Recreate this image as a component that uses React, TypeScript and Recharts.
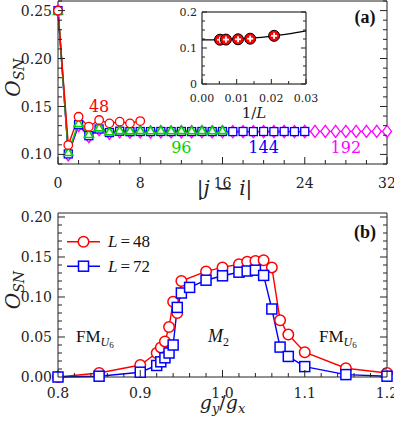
import React from 'react';
import { LineChart, Line, XAxis, YAxis, ReferenceDot, Legend } from 'recharts';

// panel (a): O_SN against |j - i|, one series per system size
const dist48 = [0, 1, 2, 3, 4, 5, 6, 7, 8];
const osn48 = [0.25, 0.1098, 0.1393, 0.1289, 0.1359, 0.1324, 0.1341, 0.1324, 0.1348];

const dist96 = [0, 1, 2, 3, 4, 5, 6, 7, 8, 9, 10, 11, 12, 13, 14, 15, 16];
const osn96 = [0.25, 0.1022, 0.1324, 0.121, 0.1279, 0.1237, 0.1251, 0.1248, 0.125, 0.1249, 0.125, 0.1249, 0.125, 0.1249, 0.125, 0.1249, 0.125];

const dist144 = [0, 1, 2, 3, 4, 5, 6, 7, 8, 9, 10, 11, 12, 13, 14, 15, 16, 17, 18, 19, 20, 21, 22, 23, 24];
const osn144 = [0.25, 0.1005, 0.131, 0.1195, 0.1265, 0.1228, 0.1242, 0.1237, 0.1239, 0.1238, 0.1239, 0.1238, 0.1239, 0.1238, 0.1239, 0.1238, 0.1239, 0.1238, 0.1239, 0.1238, 0.1239, 0.1238, 0.1239, 0.1238, 0.1239];

const dist192 = [0, 1, 2, 3, 4, 5, 6, 7, 8, 9, 10, 11, 12, 13, 14, 15, 16, 17, 18, 19, 20, 21, 22, 23, 24, 25, 26, 27, 28, 29, 30, 31, 32];
const osn192 = [0.25, 0.0995, 0.13, 0.1185, 0.1258, 0.122, 0.1236, 0.1232, 0.1235, 0.1234, 0.1236, 0.1235, 0.1236, 0.1236, 0.1237, 0.1236, 0.1237, 0.1237, 0.1238, 0.1237, 0.1238, 0.1238, 0.1239, 0.1238, 0.1239, 0.124, 0.124, 0.124, 0.124, 0.124, 0.124, 0.124, 0.124];

// inset: finite size extrapolation against 1/L
const invL = [0.0052, 0.0069, 0.0104, 0.0139, 0.0208];
const osnInf = [0.123, 0.1234, 0.1242, 0.1258, 0.1338];
const fitX = [0, 0.005, 0.01, 0.015, 0.02, 0.025, 0.03];
const fitY = [0.1225, 0.1232, 0.125, 0.128, 0.1332, 0.1395, 0.1478];

// panel (b): O_SN against g_y/g_x
const gy48 = [0.8, 0.85, 0.9, 0.92, 0.925, 0.93, 0.935, 0.94, 0.945, 0.95, 0.98, 1.0, 1.02, 1.03, 1.04, 1.05, 1.06, 1.07, 1.08, 1.1, 1.15, 1.2];
const osnL48 = [0.0, 0.005, 0.015, 0.03, 0.037, 0.0445, 0.0625, 0.094, 0.08, 0.12, 0.132, 0.137, 0.141, 0.144, 0.145, 0.146, 0.137, 0.071, 0.053, 0.031, 0.011, 0.005];
const gy72 = [0.8, 0.85, 0.9, 0.92, 0.925, 0.93, 0.935, 0.94, 0.945, 0.95, 0.96, 0.98, 1.0, 1.02, 1.03, 1.04, 1.05, 1.06, 1.07, 1.08, 1.1, 1.15, 1.2];
const osnL72 = [0.0, 0.001, 0.006, 0.0144, 0.019, 0.024, 0.03, 0.04, 0.087, 0.105, 0.112, 0.121, 0.1265, 0.131, 0.1325, 0.1335, 0.127, 0.085, 0.0374, 0.0257, 0.013, 0.003, 0.001];

// ticks
const topXMajor = [0, 8, 16, 24, 32];
const topXTicks = [0, 2, 4, 6, 8, 10, 12, 14, 16, 18, 20, 22, 24, 26, 28, 30, 32];
const topYMajor = [0.1, 0.15, 0.2, 0.25];
const topYTicks = [0.09, 0.1, 0.11, 0.12, 0.13, 0.14, 0.15, 0.16, 0.17, 0.18, 0.19, 0.2, 0.21, 0.22, 0.23, 0.24, 0.25, 0.26];
const botXMajor = [0.8, 0.9, 1.0, 1.1, 1.2];
const botXTicks = [0.8, 0.82, 0.84, 0.86, 0.88, 0.9, 0.92, 0.94, 0.96, 0.98, 1.0, 1.02, 1.04, 1.06, 1.08, 1.1, 1.12, 1.14, 1.16, 1.18, 1.2];
const botYMajor = [0, 0.05, 0.1, 0.15, 0.2];
const botYTicks = [0, 0.01, 0.02, 0.03, 0.04, 0.05, 0.06, 0.07, 0.08, 0.09, 0.1, 0.11, 0.12, 0.13, 0.14, 0.15, 0.16, 0.17, 0.18, 0.19, 0.2];
const insetXMajor = [0, 0.01, 0.02, 0.03];
const insetXTicks = [0, 0.005, 0.01, 0.015, 0.02, 0.025, 0.03];
const insetYMajor = [0, 0.1, 0.2];
const insetYTicks = [0, 0.025, 0.05, 0.075, 0.1, 0.125, 0.15, 0.175, 0.2];

const pts = (xs: number[], ys: number[]) => xs.map((x, i) => ({ x, y: ys[i] }));

const SERIF = '"DejaVu Serif", serif';
const TIMES = '"Liberation Serif", serif';
const AXIS = '#222';
const RED = '#ff0000';
const GREEN = '#00d400';
const BLUE = '#0000ff';
const MAGENTA = '#ff00ff';

type Side = 'left' | 'right' | 'top' | 'bottom';

function makeTick(side: Side, majors: number[], opts: { fmt?: (v: number) => string; gap?: number; size?: number; major?: number; minor?: number } = {}) {
  const { fmt, gap = 6, size = 14, major = 7, minor = 4 } = opts;
  return (p: any) => {
    const { x, y, payload, index } = p;
    const v = payload.value;
    const isMajor = majors.some((m) => Math.abs(m - v) < 1e-9);
    const len = isMajor ? major : minor;
    let x2 = x;
    let y2 = y;
    if (side === 'left') x2 = x + len;
    if (side === 'right') x2 = x - len;
    if (side === 'bottom') y2 = y - len;
    if (side === 'top') y2 = y + len;
    let label = null;
    if (fmt && isMajor) {
      label =
        side === 'left' ? (
          <text x={x - gap} y={y} dy="0.36em" textAnchor="end" fontSize={size} fontFamily={SERIF} fill="#222">
            {fmt(v)}
          </text>
        ) : (
          <text x={x} y={y + gap} textAnchor="middle" fontSize={size} fontFamily={SERIF} fill="#222">
            {fmt(v)}
          </text>
        );
    }
    return (
      <g key={index}>
        <line x1={x} y1={y} x2={x2} y2={y2} stroke={AXIS} strokeWidth={1} />
        {label}
      </g>
    );
  };
}

type Shape = 'circle' | 'square' | 'triangle' | 'diamond' | 'plus';

function marker(shape: Shape, color: string, size: number, sw = 1.3) {
  return (p: any) => {
    const { cx, cy, index } = p;
    const h = size / 2;
    if (cx == null || cy == null) return <g key={index} />;
    if (shape === 'circle')
      return <circle key={index} cx={cx} cy={cy} r={h} fill="#fff" stroke={color} strokeWidth={sw} />;
    if (shape === 'square')
      return <rect key={index} x={cx - h} y={cy - h} width={size} height={size} fill="#fff" stroke={color} strokeWidth={sw} />;
    if (shape === 'triangle')
      return (
        <polygon
          key={index}
          points={`${cx},${cy - h * 1.05} ${cx - h * 1.1},${cy + h * 0.8} ${cx + h * 1.1},${cy + h * 0.8}`}
          fill="#fff"
          stroke={color}
          strokeWidth={sw + 0.4}
        />
      );
    if (shape === 'diamond')
      return (
        <polygon
          key={index}
          points={`${cx},${cy - h * 1.35} ${cx + h},${cy} ${cx},${cy + h * 1.35} ${cx - h},${cy}`}
          fill="#fff"
          stroke={color}
          strokeWidth={sw}
        />
      );
    return (
      <g key={index}>
        <circle cx={cx} cy={cy} r={h} fill={color} stroke="#000" strokeWidth={1} />
        <line x1={cx - h * 0.55} y1={cy} x2={cx + h * 0.55} y2={cy} stroke="#fff" strokeWidth={1.8} />
        <line x1={cx} y1={cy - h * 0.55} x2={cx} y2={cy + h * 0.55} stroke="#fff" strokeWidth={1.8} />
      </g>
    );
  };
}

const note = (body: React.ReactNode, color: string, size: number, anchor: 'start' | 'middle' = 'middle', weight = 'normal', family = SERIF) =>
  (p: any) => (
    <text x={p.cx} y={p.cy} dy={anchor === 'middle' ? '0.36em' : 0} textAnchor={anchor} fill={color} fontSize={size} fontFamily={family} fontWeight={weight}>
      {body}
    </text>
  );

const yTitle = (p: any) => {
  const vb = p.viewBox;
  const x = 20;
  const y = vb.y + vb.height / 2 - 5;
  return (
    <text x={x} y={y} transform={`rotate(-90, ${x}, ${y})`} textAnchor="middle" fontFamily={SERIF} fill="#222">
      <tspan fontStyle="italic" fontSize={20}>O</tspan>
      <tspan fontStyle="italic" fontSize={14} dy={4}>SN</tspan>
    </text>
  );
};

// main axes keep their domain without allowDataOverflow so markers on the frame are not clipped
const mainAxis = { type: 'number' as const, interval: 0, tickSize: 0, tickMargin: 0, tickLine: false, axisLine: { stroke: AXIS } };
const frameAxis = { ...mainAxis, allowDataOverflow: true };

function TopPanel() {
  return (
    <LineChart width={394} height={200} margin={{ top: 1, right: 7, bottom: 0, left: 0 }}>
      <XAxis
        {...mainAxis}
        dataKey="x"
        domain={[0, 32]}
        ticks={topXTicks}
        height={36}
        tick={makeTick('bottom', topXMajor, { fmt: (v) => String(v), gap: 24 })}
        label={{
          content: (p: any) => {
            const vb = p.viewBox;
            return (
              <text x={vb.x + vb.width / 2 + 2} y={vb.y + 31} textAnchor="middle" fontSize={20} fontFamily={SERIF} fill="#222">
                |<tspan fontStyle="italic">j</tspan> − <tspan fontStyle="italic">i</tspan>|
              </text>
            );
          },
        }}
      />
      <XAxis {...frameAxis} xAxisId="top" orientation="top" mirror domain={[0, 32]} ticks={topXTicks} tick={makeTick('top', topXMajor)} />
      <YAxis
        {...mainAxis}
        domain={[0.09, 0.26]}
        ticks={topYTicks}
        width={58}
        tick={makeTick('left', topYMajor, { fmt: (v) => v.toFixed(2) })}
        label={{ content: yTitle }}
      />
      <YAxis {...frameAxis} yAxisId="right" orientation="right" mirror domain={[0.09, 0.26]} ticks={topYTicks} tick={makeTick('right', topYMajor)} />

      <Line data={pts(dist192, osn192)} dataKey="y" stroke={MAGENTA} strokeWidth={1.4} dot={marker('diamond', MAGENTA, 9)} isAnimationActive={false} />
      <Line data={pts(dist144, osn144)} dataKey="y" stroke={BLUE} strokeWidth={1.4} dot={marker('square', BLUE, 8)} isAnimationActive={false} />
      <Line data={pts(dist96, osn96)} dataKey="y" stroke={GREEN} strokeWidth={1.6} dot={marker('triangle', GREEN, 8)} isAnimationActive={false} />
      <Line data={pts(dist48, osn48)} dataKey="y" stroke={RED} strokeWidth={1.4} dot={marker('circle', RED, 8.5)} isAnimationActive={false} />

      <ReferenceDot x={4} y={0.15} r={1} shape={note('48', RED, 16)} />
      <ReferenceDot x={12} y={0.1072} r={1} shape={note('96', GREEN, 16)} />
      <ReferenceDot x={20} y={0.1072} r={1} shape={note('144', BLUE, 16)} />
      <ReferenceDot x={28} y={0.1072} r={1} shape={note('192', MAGENTA, 16)} />
      <ReferenceDot x={29.86} y={0.2438} r={1} shape={note('(a)', '#111', 18, 'middle', 'bold', TIMES)} />
    </LineChart>
  );
}

function Inset() {
  const small = { size: 11, major: 5, minor: 3 };
  const inMain = { ...mainAxis, axisLine: { stroke: '#000' } };
  const inFrame = { ...inMain, allowDataOverflow: true };
  return (
    <LineChart width={160} height={125} margin={{ top: 12, right: 24, bottom: 0, left: 0 }}>
      <XAxis
        {...inMain}
        dataKey="x"
        domain={[0, 0.03]}
        ticks={insetXTicks}
        height={41}
        tick={makeTick('bottom', insetXMajor, { ...small, fmt: (v) => v.toFixed(2), gap: 17.5 })}
        label={{
          content: (p: any) => {
            const vb = p.viewBox;
            return (
              <text x={vb.x + vb.width / 2} y={vb.y + 34} textAnchor="middle" fontSize={15} fontFamily={SERIF} fill="#222">
                1/<tspan fontStyle="italic">L</tspan>
              </text>
            );
          },
        }}
      />
      <XAxis {...inFrame} xAxisId="top" orientation="top" mirror domain={[0, 0.03]} ticks={insetXTicks} tick={makeTick('top', insetXMajor, small)} />
      <YAxis
        {...inMain}
        domain={[0, 0.2]}
        ticks={insetYTicks}
        width={32}
        tick={makeTick('left', insetYMajor, { ...small, gap: 5, fmt: (v) => (v === 0 ? '0' : v.toFixed(1)) })}
      />
      <YAxis {...inFrame} yAxisId="right" orientation="right" mirror domain={[0, 0.2]} ticks={insetYTicks} tick={makeTick('right', insetYMajor, small)} />

      <Line data={pts(fitX, fitY)} dataKey="y" type="monotone" stroke="#000" strokeWidth={1.3} dot={false} isAnimationActive={false} />
      <Line data={pts(invL, osnInf)} dataKey="y" stroke="none" dot={marker('plus', RED, 11)} isAnimationActive={false} />
    </LineChart>
  );
}

const renderLegend = (props: any) => {
  const items = props.payload ?? [];
  return (
    <svg width={130} height={52}>
      {items.map((e: any, i: number) => {
        const cy = 13.7 + i * 24.5;
        const dot = marker(i === 0 ? 'circle' : 'square', e.color, i === 0 ? 10.5 : 10, 1.5);
        return (
          <g key={i}>
            <line x1={9} y1={cy} x2={42} y2={cy} stroke={e.color} strokeWidth={1.5} />
            {dot({ cx: 25.5, cy, index: i })}
            <text x={50} y={cy + 5.5} fontSize={17} fontFamily={TIMES} fill="#111">
              <tspan fontStyle="italic">L</tspan>
              <tspan dx={3}>=</tspan>
              <tspan dx={3}>{e.value}</tspan>
            </text>
          </g>
        );
      })}
    </svg>
  );
};

const fm = (p: any) => (
  <text x={p.cx} y={p.cy} fill="#111" fontFamily={TIMES}>
    <tspan fontSize={17}>FM</tspan>
    <tspan fontSize={12} fontStyle="italic" dy={4}>U</tspan>
    <tspan fontSize={9} dy={2}>6</tspan>
  </text>
);

const m2 = (p: any) => (
  <text x={p.cx} y={p.cy} fill="#111" fontFamily={TIMES}>
    <tspan fontSize={18} fontStyle="italic">M</tspan>
    <tspan fontSize={12} dy={4}>2</tspan>
  </text>
);

function BottomPanel() {
  return (
    <LineChart width={394} height={224} margin={{ top: 13, right: 7, bottom: 0, left: 0 }}>
      <XAxis
        {...mainAxis}
        dataKey="x"
        domain={[0.8, 1.2]}
        ticks={botXTicks}
        height={47}
        tick={makeTick('bottom', botXMajor, { fmt: (v) => v.toFixed(1), gap: 20.5 })}
        label={{
          content: (p: any) => {
            const vb = p.viewBox;
            return (
              <text x={vb.x + vb.width / 2} y={vb.y + 32} textAnchor="middle" fontSize={19} fontFamily={SERIF} fill="#222">
                <tspan fontStyle="italic">g</tspan>
                <tspan fontStyle="italic" fontSize={13} dy={4}>y</tspan>
                <tspan dy={-4}>/</tspan>
                <tspan fontStyle="italic">g</tspan>
                <tspan fontStyle="italic" fontSize={13} dy={4}>x</tspan>
              </text>
            );
          },
        }}
      />
      <XAxis {...frameAxis} xAxisId="top" orientation="top" mirror domain={[0.8, 1.2]} ticks={botXTicks} tick={makeTick('top', botXMajor)} />
      <YAxis
        {...mainAxis}
        domain={[0, 0.205]}
        ticks={botYTicks}
        width={58}
        tick={makeTick('left', botYMajor, { fmt: (v) => v.toFixed(2) })}
        label={{ content: yTitle }}
      />
      <YAxis {...frameAxis} yAxisId="right" orientation="right" mirror domain={[0, 0.205]} ticks={botYTicks} tick={makeTick('right', botYMajor)} />

      <Line data={pts(gy48, osnL48)} dataKey="y" name="48" stroke={RED} strokeWidth={1.4} dot={marker('circle', RED, 10.5, 1.5)} isAnimationActive={false} />
      <Line data={pts(gy72, osnL72)} dataKey="y" name="72" stroke={BLUE} strokeWidth={1.4} dot={marker('square', BLUE, 10, 1.5)} isAnimationActive={false} />

      <Legend verticalAlign="middle" align="center" layout="horizontal" wrapperStyle={{ left: 58, top: 28, width: 130, height: 52 }} content={renderLegend} />

      <ReferenceDot x={0.8219} y={0.0438} r={1} shape={fm} />
      <ReferenceDot x={0.9824} y={0.0438} r={1} shape={m2} />
      <ReferenceDot x={1.1173} y={0.0438} r={1} shape={fm} />
      <ReferenceDot x={1.1733} y={0.1819} r={1} shape={note('(b)', '#111', 18, 'middle', 'bold', TIMES)} />
    </LineChart>
  );
}

export default function App() {
  return (
    <div style={{ position: 'absolute', left: 0, top: 0, width: 394, height: 424, background: '#fff' }}>
      <div style={{ position: 'absolute', left: 0, top: 0 }}>
        <TopPanel />
      </div>
      <div style={{ position: 'absolute', left: 170, top: 0 }}>
        <Inset />
      </div>
      <div style={{ position: 'absolute', left: 0, top: 200 }}>
        <BottomPanel />
      </div>
    </div>
  );
}
